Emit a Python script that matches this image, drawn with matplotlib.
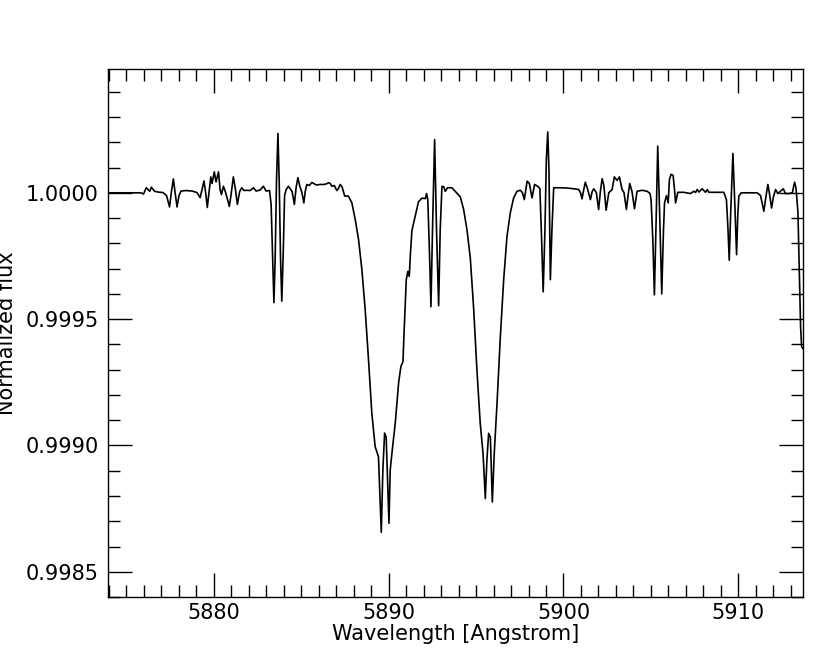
import matplotlib
matplotlib.use("Agg")
import matplotlib.pyplot as plt
from matplotlib.ticker import MultipleLocator, FormatStrFormatter

wavelength = [
    5873.95, 5875.84, 5875.98, 5876.14, 5876.34, 5876.43, 5876.62, 5876.81, 5877.10, 5877.30,
    5877.47, 5877.58, 5877.69, 5877.78, 5877.90, 5878.01, 5878.13, 5878.41, 5878.76, 5879.04,
    5879.22, 5879.33, 5879.44, 5879.55, 5879.63, 5879.73, 5879.83, 5879.90, 5880.03, 5880.13,
    5880.27, 5880.36, 5880.44, 5880.55, 5880.68, 5880.89, 5880.99, 5881.12, 5881.24, 5881.35,
    5881.48, 5881.60, 5881.73, 5881.89, 5882.08, 5882.27, 5882.42, 5882.65, 5882.84, 5882.99,
    5883.19, 5883.28, 5883.37, 5883.44, 5883.51, 5883.59, 5883.67, 5883.74, 5883.82, 5883.89,
    5883.97, 5884.05, 5884.14, 5884.27, 5884.40, 5884.48, 5884.61, 5884.71, 5884.81, 5884.91,
    5885.04, 5885.15, 5885.23, 5885.32, 5885.46, 5885.61, 5885.86, 5886.09, 5886.27, 5886.43,
    5886.56, 5886.66, 5886.75, 5886.89, 5887.04, 5887.13, 5887.23, 5887.34, 5887.49, 5887.70,
    5887.90, 5888.09, 5888.28, 5888.47, 5888.66, 5888.85, 5889.04, 5889.23, 5889.42, 5889.52,
    5889.58, 5889.67, 5889.77, 5889.86, 5889.94, 5890.02, 5890.09, 5890.19, 5890.38, 5890.57,
    5890.70, 5890.82, 5890.89, 5891.01, 5891.10, 5891.18, 5891.25, 5891.33, 5891.52, 5891.71,
    5891.91, 5892.10, 5892.17, 5892.24, 5892.34, 5892.42, 5892.51, 5892.63, 5892.74, 5892.86,
    5892.95, 5893.05, 5893.14, 5893.24, 5893.37, 5893.62, 5893.81, 5894.10, 5894.29, 5894.48,
    5894.67, 5894.86, 5895.05, 5895.24, 5895.40, 5895.53, 5895.62, 5895.72, 5895.82, 5895.93,
    5896.04, 5896.20, 5896.39, 5896.58, 5896.77, 5896.96, 5897.15, 5897.34, 5897.53, 5897.65,
    5897.76, 5897.92, 5898.05, 5898.20, 5898.35, 5898.52, 5898.65, 5898.75, 5898.84, 5898.94,
    5899.02, 5899.10, 5899.17, 5899.25, 5899.34, 5899.44, 5899.82, 5900.21, 5900.58, 5900.87,
    5900.97, 5901.06, 5901.16, 5901.25, 5901.37, 5901.54, 5901.64, 5901.73, 5901.88, 5902.01,
    5902.11, 5902.21, 5902.31, 5902.44, 5902.59, 5902.78, 5902.91, 5903.07, 5903.20, 5903.35,
    5903.46, 5903.60, 5903.70, 5903.79, 5903.92, 5904.06, 5904.21, 5904.50, 5904.79, 5904.95,
    5905.01, 5905.11, 5905.20, 5905.30, 5905.39, 5905.51, 5905.62, 5905.72, 5905.78, 5905.89,
    5905.99, 5906.06, 5906.15, 5906.27, 5906.35, 5906.41, 5906.54, 5906.88, 5907.26, 5907.45,
    5907.55, 5907.65, 5907.75, 5907.93, 5908.12, 5908.22, 5908.31, 5908.69, 5909.17, 5909.32,
    5909.41, 5909.48, 5909.57, 5909.69, 5909.79, 5909.90, 5909.97, 5910.03, 5910.17, 5910.58,
    5911.08, 5911.27, 5911.46, 5911.57, 5911.69, 5911.79, 5911.90, 5912.01, 5912.13, 5912.26,
    5912.42, 5912.57, 5912.70, 5912.89, 5913.09, 5913.15, 5913.22, 5913.29, 5913.33, 5913.41,
    5913.49, 5913.56, 5913.62, 5913.70,
]

flux = [
    1.000000, 1.000000, 0.999995, 1.000020, 1.000006, 1.000022, 1.000006, 1.000003, 1.000001, 0.999989,
    0.999944, 1.000005, 1.000055, 1.000005, 0.999944, 0.999989, 1.000007, 1.000009, 1.000007, 1.000001,
    0.999981, 1.000013, 1.000047, 0.999993, 0.999942, 1.000001, 1.000063, 1.000037, 1.000083, 1.000043,
    1.000083, 1.000013, 0.999993, 1.000026, 1.000001, 0.999946, 0.999993, 1.000063, 1.000013, 0.999954,
    1.000005, 1.000020, 1.000009, 1.000010, 1.000009, 1.000020, 1.000007, 1.000011, 1.000026, 1.000007,
    1.000009, 0.999954, 0.999735, 0.999565, 0.999735, 1.000053, 1.000235, 1.000053, 0.999735, 0.999571,
    0.999755, 0.999989, 1.000013, 1.000026, 1.000013, 1.000005, 0.999954, 1.000021, 1.000060, 1.000029,
    1.000001, 0.999960, 1.000005, 1.000033, 1.000029, 1.000041, 1.000031, 1.000033, 1.000033, 1.000035,
    1.000040, 1.000037, 1.000026, 1.000029, 1.000009, 1.000017, 1.000033, 1.000023, 0.999987, 0.999987,
    0.999960, 0.999894, 0.999815, 0.999696, 0.999537, 0.999339, 0.999127, 0.998995, 0.998955, 0.998771,
    0.998656, 0.998902, 0.999049, 0.999033, 0.998862, 0.998692, 0.998902, 0.998970, 0.999089, 0.999247,
    0.999312, 0.999332, 0.999458, 0.999656, 0.999689, 0.999669, 0.999763, 0.999850, 0.999907, 0.999965,
    0.999979, 0.999977, 0.999997, 0.999973, 0.999755, 0.999549, 0.999854, 1.000211, 0.999854, 0.999553,
    0.999854, 1.000025, 1.000025, 1.000006, 1.000020, 1.000020, 1.000006, 0.999984, 0.999934, 0.999854,
    0.999743, 0.999545, 0.999299, 0.999087, 0.998968, 0.998790, 0.998942, 0.999048, 0.999033, 0.998776,
    0.998968, 0.999167, 0.999431, 0.999656, 0.999828, 0.999921, 0.999980, 1.000006, 1.000010, 1.000001,
    0.999973, 1.000046, 1.000037, 0.999980, 1.000033, 1.000026, 1.000017, 0.999815, 0.999608, 0.999854,
    1.000132, 1.000241, 1.000092, 0.999656, 0.999854, 1.000020, 1.000020, 1.000019, 1.000016, 1.000013,
    1.000001, 0.999976, 1.000013, 1.000042, 1.000017, 0.999973, 1.000005, 1.000016, 1.000001, 0.999934,
    1.000005, 1.000056, 1.000029, 0.999931, 1.000000, 1.000013, 1.000063, 1.000049, 1.000063, 1.000013,
    1.000001, 0.999934, 0.999993, 1.000037, 1.000005, 0.999937, 1.000006, 1.000010, 1.000006, 0.999997,
    0.999973, 0.999815, 0.999596, 0.999894, 1.000185, 0.999894, 0.999600, 0.999854, 0.999960, 0.999989,
    0.999960, 1.000053, 1.000073, 1.000069, 1.000013, 0.999960, 1.000002, 1.000002, 0.999997, 1.000006,
    1.000001, 1.000013, 1.000003, 1.000016, 1.000002, 1.000013, 1.000002, 1.000002, 1.000002, 0.999973,
    0.999854, 0.999733, 0.999934, 1.000156, 0.999973, 0.999755, 0.999914, 0.999987, 1.000000, 1.000000,
    1.000000, 0.999989, 0.999927, 0.999981, 1.000033, 0.999993, 0.999940, 0.999985, 1.000013, 0.999997,
    1.000007, 1.000016, 0.999997, 0.999997, 1.000000, 1.000021, 1.000042, 1.000021, 0.999993, 0.999921,
    0.999683, 0.999471, 0.999391, 0.999383,
]

x_label = "Wavelength [Angstrom]"
y_label = "Normalized flux"

fig = plt.figure(figsize=(8.3, 6.63), dpi=100)
ax = fig.add_axes([0.1301, 0.0995, 0.8374, 0.7964])
ax.plot(wavelength, flux, color="black", lw=1.2, solid_joinstyle="round")

ax.set_xlim(5873.95, 5913.70)
ax.set_ylim(0.99840, 1.00049)

ax.xaxis.set_major_locator(MultipleLocator(10))
ax.xaxis.set_minor_locator(MultipleLocator(1))
ax.yaxis.set_major_locator(MultipleLocator(0.0005))
ax.yaxis.set_minor_locator(MultipleLocator(0.0001))
ax.yaxis.set_major_formatter(FormatStrFormatter("%.4f"))
ax.ticklabel_format(useOffset=False, axis="x")

ax.tick_params(which="both", direction="in", top=True, right=True, width=1.0, labelsize=15)
ax.tick_params(which="major", length=17)
ax.tick_params(which="minor", length=8.5)
ax.tick_params(axis="x", which="major", pad=4)
ax.tick_params(axis="y", which="major", pad=6.5)
for s in ax.spines.values():
    s.set_linewidth(1.0)

ax.set_xlabel(x_label, fontsize=15, labelpad=1)
ax.set_ylabel(y_label, fontsize=15)
ax.yaxis.set_label_coords(-0.131, 0.5)

fig.savefig("out.png", dpi=100)
